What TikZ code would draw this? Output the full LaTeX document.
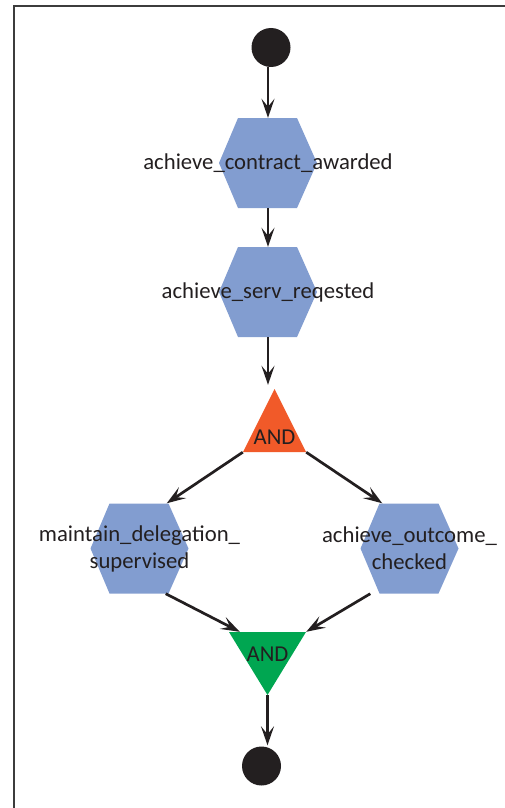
\documentclass[tikz,border=0pt]{standalone}
\usepackage{fontspec}
\setmainfont{Carlito}
\usetikzlibrary{arrows.meta}

\definecolor{hexblue}{RGB}{130,157,208}
\definecolor{andorange}{RGB}{241,90,41}
\definecolor{andgreen}{RGB}{0,166,81}
\definecolor{ink}{RGB}{35,31,32}
\definecolor{framegray}{RGB}{60,60,60}

\tikzset{
  goaltext/.style={font=\fontsize{22.7}{27}\selectfont, text=ink, align=center, inner sep=0pt},
  hexbox/.style={minimum width=98pt, minimum height=90pt, inner sep=0pt,
    path picture={\fill[hexblue]
      (path picture bounding box.west)
      -- ([xshift=19pt]path picture bounding box.north west)
      -- ([xshift=-20pt]path picture bounding box.north east)
      -- (path picture bounding box.east)
      -- ([xshift=-20pt]path picture bounding box.south east)
      -- ([xshift=19pt]path picture bounding box.south west) -- cycle;}},
  andup/.style={minimum width=63pt, minimum height=63pt, inner sep=0pt,
    path picture={\fill[andorange]
      (path picture bounding box.south west)
      -- (path picture bounding box.north)
      -- (path picture bounding box.south east) -- cycle;}},
  anddown/.style={minimum width=77pt, minimum height=63pt, inner sep=0pt,
    path picture={\fill[andgreen]
      (path picture bounding box.north west)
      -- (path picture bounding box.south)
      -- (path picture bounding box.north east) -- cycle;}},
  terminal/.style={circle, fill=ink, minimum size=39pt, inner sep=0pt},
  flow/.style={ink, line width=2.7pt, -{Stealth[length=19pt, width=13pt, inset=8pt]}}
}

\begin{document}
\begin{tikzpicture}[x=1pt, y=-1pt]
  \useasboundingbox (0,0) rectangle (505,808);
  \draw[framegray, line width=1.8pt] (14,6) rectangle (530,840);

  \node[terminal] (start) at (271,47.5) {};
  \node[hexbox, label={[goaltext]center:achieve\_contract\_awarded}] (h1) at (268,163) {};
  \node[hexbox, label={[goaltext]center:achieve\_serv\_reqested}] (h2) at (268,292) {};
  \node[andup, label={[goaltext, yshift=-16.5pt]center:AND}] (and1) at (274.5,420.5) {};
  \node[hexbox, label={[goaltext]center:maintain\_delegation\_\\supervised}] (h3) at (139.5,548.5) {};
  \node[hexbox, label={[goaltext]center:achieve\_outcome\_\\checked}] (h4) at (409.5,548.5) {};
  \node[anddown, label={[goaltext, yshift=9pt]center:AND}] (and2) at (267.5,663.5) {};
  \node[terminal] (end) at (261.5,766) {};

  \draw[flow] (start.south -| h1.north) -- (h1.north);
  \draw[flow] (h1.south) -- (h2.north);
  \draw[flow] (h2.south) -- ([yshift=4pt]h2.south |- and1.north);
  \draw[flow] (and1.south west) -- ([xshift=-22pt]h3.north east);
  \draw[flow] (and1.south east) -- ([xshift=22pt]h4.north west);
  \draw[flow] ([xshift=-23pt]h3.south east) -- ([xshift=11pt]and2.north west);
  \draw[flow] ([xshift=10pt]h4.south west) -- (and2.north east);
  \draw[flow] (and2.south) -- ([yshift=1pt]and2.south |- end.north);
\end{tikzpicture}
\end{document}
